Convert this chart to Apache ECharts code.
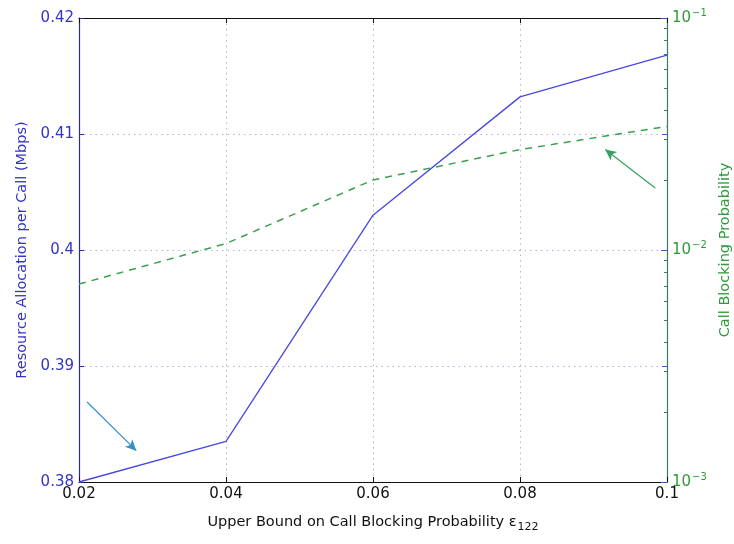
<!DOCTYPE html>
<html>
<head>
<meta charset="utf-8">
<script src="https://cdn.jsdelivr.net/npm/echarts@6/dist/echarts.min.js"></script>
<style>
  html, body { margin: 0; padding: 0; background: #fff; }
  #chart { width: 734px; height: 544px; }
</style>
</head>
<body>
<div id="chart"></div>
<script>
// x values (upper bound on call blocking probability)
const xValues = [0.02, 0.04, 0.06, 0.08, 0.1]
// left axis: resource allocation per call (Mbps)
const allocValues = [0.38, 0.3835, 0.403, 0.4132, 0.4168]
// right axis: call blocking probability (log)
const blockingValues = [0.00713, 0.01066, 0.02004, 0.0271, 0.0341]
// log minor tick positions (log10 of 2..9 in each decade)
const minorTicks = [-2.699, -2.523, -2.398, -2.301, -2.222, -2.155, -2.097, -2.046,
                    -1.699, -1.523, -1.398, -1.301, -1.222, -1.155, -1.097, -1.046]
// annotation arrows [from, to] in data coords
const allocArrow = [[0.0211, 0.3869], [0.0278, 0.3827]]
const blockingArrow = [[0.0984, 0.0185], [0.0916, 0.0271]]

const font = 'DejaVu Sans, Arial, sans-serif'
const blue = '#3333c8'
const green = '#2f9a3a'

const chart = echarts.init(document.getElementById('chart'))

const option = {
  animation: false,
  backgroundColor: '#fff',
  textStyle: { fontFamily: font },
  grid: { left: 79, right: 67, top: 18, bottom: 62, outerBoundsMode: 'none', containLabel: false },
  xAxis: [
    {
      type: 'value',
      position: 'bottom',
      min: 0.02, max: 0.1, interval: 0.02,
      axisLine: { lineStyle: { color: '#111', width: 1.2 } },
      axisTick: { inside: true, length: 5, lineStyle: { color: '#111' } },
      axisLabel: { color: '#111', fontSize: 15, margin: 5, fontFamily: font },
      splitLine: { show: true, lineStyle: { type: [1.5, 4], color: '#b8b8b8' } },
      name: '{t|Upper Bound on Call Blocking Probability ε}{s|122}',
      nameLocation: 'middle',
      nameGap: 30,
      nameTextStyle: {
        rich: {
          t: { fontSize: 14.5, color: '#111', fontFamily: font },
          s: { fontSize: 11, color: '#111', fontFamily: font, padding: [10, 0, 0, 1] }
        }
      }
    },
    {
      type: 'value',
      position: 'top',
      min: 0.02, max: 0.1, interval: 0.02,
      axisLine: { lineStyle: { color: '#111', width: 1.2 } },
      axisTick: { inside: true, length: 5, lineStyle: { color: '#111' } },
      axisLabel: { show: false },
      splitLine: { show: false }
    }
  ],
  yAxis: [
    {
      type: 'value',
      position: 'left',
      min: 0.38, max: 0.42, interval: 0.01,
      axisLine: { show: true, lineStyle: { color: '#2a2aa0', width: 1.2 } },
      axisTick: { show: true, inside: true, length: 5, lineStyle: { color: '#2a2aa0' } },
      axisLabel: { color: blue, fontSize: 15, margin: 5, fontFamily: font },
      splitLine: { show: true, lineStyle: { type: [1.5, 4], color: '#aab0f0' } },
      name: 'Resource Allocation per Call (Mbps)',
      nameLocation: 'middle',
      nameGap: 49,
      nameTextStyle: { color: blue, fontSize: 14.5, fontFamily: font }
    },
    {
      type: 'log',
      position: 'right',
      logBase: 10,
      min: 0.001, max: 0.1,
      axisLine: { show: true, lineStyle: { color: '#3d7a68', width: 1.2 } },
      axisTick: { show: true, inside: true, length: 6, lineStyle: { color: '#3d7a68' } },
      axisLabel: {
        margin: 5,
        formatter: v => '{b|10}{e|' + Math.round(Math.log10(v)).toString().replace('-', '−') + '}',
        rich: {
          b: { fontSize: 15, color: green, fontFamily: font },
          e: { fontSize: 10, color: green, fontFamily: font, padding: [0, 0, 9, 1] }
        }
      },
      splitLine: { show: false },
      name: 'Call Blocking Probability',
      nameLocation: 'middle',
      nameGap: 49,
      nameRotate: 90,
      nameTextStyle: { color: green, fontSize: 14.5, fontFamily: font }
    },
    {
      type: 'value',
      position: 'right',
      min: -3, max: -1,
      axisLine: { show: false },
      axisTick: { show: true, inside: true, length: 3, customValues: minorTicks,
                  lineStyle: { color: '#3d7a68' } },
      axisLabel: { show: false },
      splitLine: { show: false }
    },
    {
      type: 'value',
      position: 'right',
      min: 0.38, max: 0.42, interval: 0.01,
      axisLine: { show: false },
      axisTick: { show: true, inside: true, length: 5, lineStyle: { color: '#4a4ad0' } },
      axisLabel: { show: false },
      splitLine: { show: false }
    }
  ],
  series: [
    {
      name: 'Resource Allocation',
      type: 'line',
      xAxisIndex: 0,
      yAxisIndex: 0,
      data: xValues.map((x, i) => [x, allocValues[i]]),
      showSymbol: false,
      lineStyle: { color: '#4848e0', width: 1.3 },
      markLine: {
        silent: true,
        symbol: ['none', 'arrow'],
        symbolSize: [8, 11],
        label: { show: false },
        lineStyle: { color: '#3590c8', type: 'solid', width: 1.2 },
        data: [[{ coord: allocArrow[0] }, { coord: allocArrow[1] }]]
      }
    },
    {
      name: 'Call Blocking',
      type: 'line',
      xAxisIndex: 0,
      yAxisIndex: 1,
      data: xValues.map((x, i) => [x, blockingValues[i]]),
      showSymbol: false,
      lineStyle: { color: '#3aa04c', width: 1.5, type: [7, 6] },
      markLine: {
        silent: true,
        symbol: ['none', 'arrow'],
        symbolSize: [8, 11],
        label: { show: false },
        lineStyle: { color: '#35a060', type: 'solid', width: 1.2 },
        data: [[{ coord: blockingArrow[0] }, { coord: blockingArrow[1] }]]
      }
    }
  ]
}

chart.setOption(option)
</script>
</body>
</html>
